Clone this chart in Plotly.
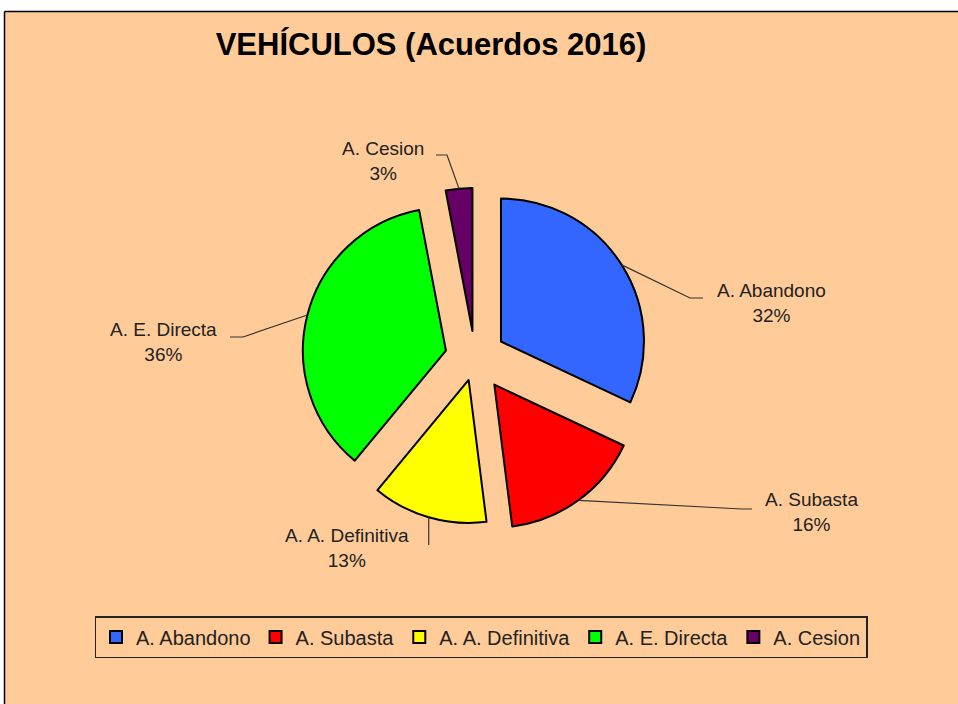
import math
import plotly.graph_objects as go

# ---- data ----
categories = ["A. Abandono", "A. Subasta", "A. A. Definitiva", "A. E. Directa", "A. Cesion"]
values = [32, 16, 13, 36, 3]
colors = ["#3366FF", "#FF0000", "#FFFF00", "#00FF00", "#660066"]
pulls = [0.215, 0.23, 0.16, 0.21, 0.19]

# label block centres (px) and leader elbow points (px)
label_pos = [(771, 303), (811, 512), (347, 548), (163, 342), (383, 161)]
leader_pts = [
    [(690, 298), (703, 298)],
    [(742, 509), (752, 509)],
    [None, None],
    [(243, 337), (230, 337)],
    [(447, 155), (436, 155)],
]

W, H = 958, 704
BG = "#FFCC99"
FONT = "Liberation Sans, Arial, sans-serif"

# pie geometry (px)
cx, cy, r = 475, 358, 143
maxpull = max(pulls)
half = r * (1 + maxpull)
dom_x = [(cx - half) / W, (cx + half) / W]
dom_y = [1 - (cy + half) / H, 1 - (cy - half) / H]

fig = go.Figure(go.Pie(
    labels=categories, values=values, sort=False, direction="clockwise", rotation=0,
    pull=pulls, marker=dict(colors=colors, line=dict(color="black", width=2)),
    textinfo="none", hoverinfo="label+percent", domain=dict(x=dom_x, y=dom_y),
))

def px(x, y):
    return x / W, 1 - y / H

top = 1 - 11.5 / H
left = 4.5 / W
shapes = [
    dict(type="rect", xref="paper", yref="paper", x0=0, x1=1, y0=top, y1=1,
         fillcolor="white", line=dict(width=0), layer="below"),
    dict(type="rect", xref="paper", yref="paper", x0=0, x1=left, y0=0, y1=1,
         fillcolor="white", line=dict(width=0), layer="below"),
    dict(type="line", xref="paper", yref="paper", x0=left, x1=left, y0=0, y1=top,
         line=dict(color="black", width=1.5)),
    dict(type="line", xref="paper", yref="paper", x0=left, x1=1, y0=top, y1=top,
         line=dict(color="black", width=1.5)),
]
annotations = []
total = sum(values)
cum = 0
for i, v in enumerate(values):
    mid = (cum + v / 2) / total * 2 * math.pi
    cum += v
    d = r * (1 + pulls[i])
    ax, ay = cx + d * math.sin(mid), cy - d * math.cos(mid)
    pts = [(ax, ay)]
    if leader_pts[i][0] is None:
        pts.append((ax, 545))
    else:
        pts += leader_pts[i]
    path = "M " + " L ".join(f"{px(x, y)[0]:.5f},{px(x, y)[1]:.5f}" for x, y in pts)
    shapes.append(dict(type="path", xref="paper", yref="paper", path=path,
                       line=dict(color="#333333", width=1.2)))
    lx, ly = px(*label_pos[i])
    pct = round(v / total * 100)
    annotations.append(dict(x=lx, y=ly, xref="paper", yref="paper", showarrow=False,
                            xanchor="center", yanchor="middle",
                            text=f"{categories[i]}<br>{pct}%", align="center",
                            font=dict(family=FONT, size=19, color="#222222")))

fig.update_layout(
    width=W, height=H, margin=dict(l=0, r=0, t=0, b=0),
    paper_bgcolor=BG, plot_bgcolor=BG,
    title=dict(text="<b>VEHÍCULOS (Acuerdos 2016)</b>", x=431 / W, xanchor="center",
               y=1 - 44 / H, yanchor="middle", font=dict(family=FONT, size=31, color="black")),
    shapes=shapes, annotations=annotations,
    legend=dict(orientation="h", x=481 / W, xanchor="center", y=1 - 637 / H, yanchor="middle",
                bgcolor=BG, bordercolor="#222222", borderwidth=1.5,
                font=dict(family=FONT, size=20, color="#222222"), itemwidth=30,
                traceorder="normal"),
    showlegend=True,
)

fig.write_html("out.html", config={"displayModeBar": False},
               post_script="document.body.style.margin='0';document.body.style.overflow='hidden';")
